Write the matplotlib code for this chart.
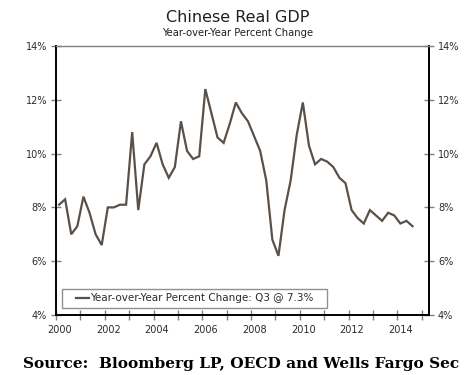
import matplotlib
matplotlib.use("Agg")
import matplotlib.pyplot as plt
import matplotlib.transforms as mtransforms
from matplotlib.patches import Rectangle
import numpy as np

# Quarterly data, 2000Q1 - 2014Q3
start_year = 2000
gdp_yoy = [
    8.1, 8.3, 7.0, 7.3,      # 2000
    8.4, 7.8, 7.0, 6.6,      # 2001
    8.0, 8.0, 8.1, 8.1,      # 2002
    10.8, 7.9, 9.6, 9.9,     # 2003
    10.4, 9.6, 9.1, 9.5,     # 2004
    11.2, 10.1, 9.8, 9.9,    # 2005
    12.4, 11.5, 10.6, 10.4,  # 2006
    11.1, 11.9, 11.5, 11.2,  # 2007
    10.65, 10.1, 9.0, 6.8,   # 2008
    6.2, 7.9, 9.0, 10.7,     # 2009
    11.9, 10.3, 9.6, 9.8,    # 2010
    9.7, 9.5, 9.1, 8.9,      # 2011
    7.9, 7.6, 7.4, 7.9,      # 2012
    7.7, 7.5, 7.8, 7.7,      # 2013
    7.4, 7.5, 7.3,           # 2014
]
series_label = "Year-over-Year Percent Change: Q3 @ 7.3%"
title = "Chinese Real GDP"
subtitle = "Year-over-Year Percent Change"
source = "Source:  Bloomberg LP, OECD and Wells Fargo Sec"
year_ticks = list(range(2000, 2016))
year_labels = [str(y) if (y % 2 == 0 and y <= 2014) else "" for y in year_ticks]
y_ticks = [4, 6, 8, 10, 12, 14]
y_labels = [f"{v}%" for v in y_ticks]

quarters = np.arange(len(gdp_yoy))
x = start_year + (quarters + 0.5) / 4.0

fig = plt.figure(figsize=(4.68, 3.75), dpi=100)
ax = fig.add_axes([56/468, 1-315/375, (429-56)/468, (315-46)/375])

ax.plot(x, gdp_yoy, color="#5b5047", lw=1.6, label=series_label, solid_joinstyle="miter")

ax.set_xlim(2000, 2015.3)
ax.set_ylim(4, 14)
ax.set_xticks(year_ticks)
ax.set_xticklabels(year_labels)
ax.set_yticks(y_ticks)
ax.set_yticklabels(y_labels)

txtcol = "#2a2a2a"
ax.tick_params(axis="both", direction="inout", length=7, width=1, color="#808080",
               labelsize=7, labelcolor=txtcol)
ax.tick_params(axis="y", left=True, right=True, labelleft=True, labelright=True, pad=3)
ax.tick_params(axis="x", pad=4)

offset = mtransforms.ScaledTranslation(0.035, 0, fig.dpi_scale_trans)
for lab in ax.get_xticklabels():
    lab.set_transform(lab.get_transform() + offset)

for side in ["left", "right", "bottom"]:
    ax.spines[side].set_color("black")
    ax.spines[side].set_linewidth(1.4)
ax.spines["top"].set_color("#808080")
ax.spines["top"].set_linewidth(1.0)

leg = ax.legend(loc="lower left", bbox_to_anchor=(0.040, 0.026), fontsize=7.5,
                handlelength=1.25, handletextpad=0.1, borderpad=0.45,
                frameon=False, borderaxespad=0)
for t in leg.get_texts():
    t.set_color(txtcol)
leg.set_zorder(6)

# Legend frame with wider horizontal padding (as in the reference)
fig.canvas.draw()
bb = leg.get_window_extent(fig.canvas.get_renderer())
hpad = 9
rect = Rectangle((bb.x0 - hpad, bb.y0), bb.width + 2 * hpad, bb.height,
                 transform=mtransforms.IdentityTransform(), facecolor="white",
                 edgecolor="#909090", linewidth=1.0, zorder=5, clip_on=False)
ax.add_artist(rect)

fig.text(238/468, 1-17/375, title, ha="center", va="center", fontsize=11.5, color="#1f1f1f")
fig.text(238/468, 1-33/375, subtitle, ha="center", va="center", fontsize=7.2, color="#1f1f1f")
fig.text(23/468, 1-368/375, source, ha="left", va="baseline", fontsize=11.1,
         family="DejaVu Serif", fontweight="bold", color="black")

fig.savefig("out.png", dpi=100)
